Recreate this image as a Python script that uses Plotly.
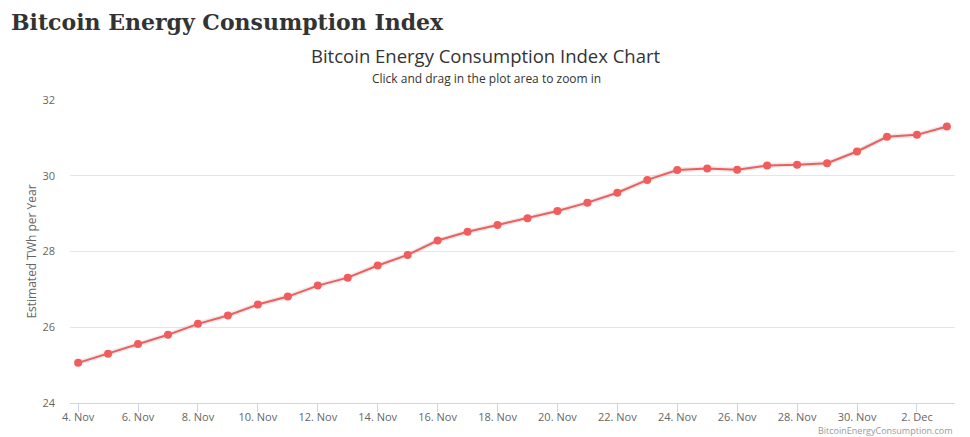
import plotly.graph_objects as go
import pandas as pd

dates = pd.date_range("2017-11-04", "2017-12-03", freq="D")
twh = [25.06, 25.30, 25.56, 25.80, 26.09, 26.31, 26.60, 26.81, 27.10, 27.31,
       27.63, 27.91, 28.29, 28.52, 28.70, 28.88, 29.07, 29.29, 29.55, 29.89,
       30.15, 30.19, 30.16, 30.27, 30.29, 30.33, 30.64, 31.03, 31.08, 31.30]
y_ticks = [24, 26, 28, 30, 32]

LINE = "#f15c5c"
fig = go.Figure()
# soft shadow beneath the line
fig.add_trace(go.Scatter(x=dates, y=twh, mode="lines",
                         line=dict(color="rgba(0,0,0,0.08)", width=5),
                         hoverinfo="skip", showlegend=False))
fig.add_trace(go.Scatter(x=dates, y=twh, mode="lines+markers",
                         line=dict(color=LINE, width=2),
                         marker=dict(color=LINE, size=8),
                         name="Estimated TWh per Year", showlegend=False))

# page has an 8px body margin, so the figure is sized/offset to compensate
pad = pd.Timedelta(hours=6.5)
fig.update_layout(
    width=962, height=429,
    margin=dict(l=62, r=15, t=92, b=34),
    paper_bgcolor="white", plot_bgcolor="white",
    font=dict(family="Open Sans, DejaVu Sans, sans-serif", color="#666666", size=11),
    xaxis=dict(
        range=[dates[0] - pad, dates[-1] + pad], automargin=False,
        tick0="2017-11-04", dtick=2 * 86400000, tickformat="%-d. %b",
        showgrid=False, showline=True, linecolor="#ccd6eb", linewidth=1,
        ticks="outside", ticklen=8, tickcolor="#ccd6eb", ticklabelstandoff=-4,
        tickfont=dict(size=11, color="#666666"), zeroline=False,
    ),
    yaxis=dict(
        range=[24, 32], tickvals=y_ticks, showgrid=True, gridcolor="#e6e6e6",
        zeroline=False, showline=False, ticks="", ticklen=0, automargin=False,
        ticklabelstandoff=14,
        tickfont=dict(size=11, color="#666666"),
        title=dict(text="Estimated TWh per Year", font=dict(size=12, color="#666666"), standoff=3),
    ),
    annotations=[
        dict(text="<b>Bitcoin Energy Consumption Index</b>", xref="paper", yref="paper",
             x=-60 / 885, y=1 + 92 / 303, xanchor="left", yanchor="top", showarrow=False,
             borderpad=0,
             font=dict(family="DejaVu Serif, serif", size=22, color="#333333")),
        dict(text="Bitcoin Energy Consumption Index Chart", xref="paper", yref="paper",
             x=(486 - 70) / 885, y=1 + 45 / 303, xanchor="center", yanchor="middle", showarrow=False,
             font=dict(family="Open Sans, DejaVu Sans, sans-serif", size=18.5, color="#333333")),
        dict(text="Click and drag in the plot area to zoom in", xref="paper", yref="paper",
             x=(486 - 70) / 885, y=1 + 22 / 303, xanchor="center", yanchor="middle", showarrow=False,
             font=dict(family="Open Sans, DejaVu Sans, sans-serif", size=12, color="#333333")),
        dict(text="BitcoinEnergyConsumption.com", xref="paper", yref="paper",
             x=1, y=-27 / 303, xanchor="right", yanchor="middle", showarrow=False,
             font=dict(family="Open Sans, DejaVu Sans, sans-serif", size=9, color="#999999")),
    ],
)
fig.write_html("out.html")
